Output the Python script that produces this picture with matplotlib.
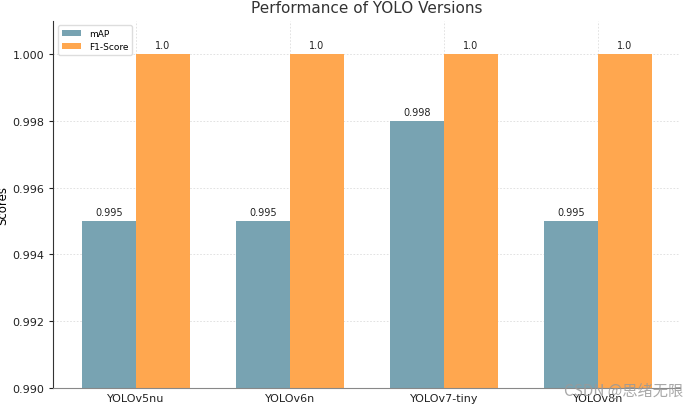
import matplotlib.pyplot as plt
import numpy as np

# model names and scores
models = ["YOLOv5nu", "YOLOv6n", "YOLOv7-tiny", "YOLOv8n"]
map_scores = [0.995, 0.995, 0.998, 0.995]
f1_scores = [1.0, 1.0, 1.0, 1.0]

plt.rcParams['font.family'] = ['DejaVu Sans', 'Noto Sans CJK SC']

x = np.arange(len(models))
width = 0.35

fig, ax = plt.subplots(figsize=(6.94, 4.10), dpi=100)
fig.subplots_adjust(left=0.077, right=0.98, top=0.947, bottom=0.052)

b1 = ax.bar(x - width / 2, map_scores, width, label="mAP", color="#78a3b2")
b2 = ax.bar(x + width / 2, f1_scores, width, label="F1-Score", color="#ffa74f")

for bars, vals in ((b1, map_scores), (b2, f1_scores)):
    for b, v in zip(bars, vals):
        ax.annotate(str(v), (b.get_x() + b.get_width() / 2, b.get_height()),
                    xytext=(0, 3), textcoords="offset points",
                    ha="center", va="bottom", fontsize=7, color="#222222")

ax.set_ylim(0.990, 1.001)
ax.set_yticks(np.arange(0.990, 1.0005, 0.002))
ax.yaxis.set_major_formatter(plt.FormatStrFormatter("%.3f"))
ax.set_xticks(x)
ax.set_xticklabels(models)
ax.tick_params(axis="both", labelsize=8, colors="#222222", length=3)
ax.tick_params(axis="x", length=0)
ax.set_ylabel("Scores", fontsize=8.5, labelpad=2)
ax.set_title("Performance of YOLO Versions", fontsize=11, color="#333333")

ax.grid(True, linestyle=(0, (2, 2)), color="#dddddd", linewidth=0.6)
ax.set_axisbelow(True)
for s in ("top", "right"):
    ax.spines[s].set_visible(False)
ax.spines["left"].set_color("#333333")
ax.spines["bottom"].set_color("#888888")

ax.legend(loc="upper left", fontsize=6.5, frameon=True, framealpha=1,
          edgecolor="#dddddd", handlelength=2.2)

fig.text(0.985, 0.025, "CSDN @思绪无限", ha="right", va="bottom",
         fontsize=11, color="#999999", alpha=0.85,
         family=["Noto Sans CJK SC", "DejaVu Sans"])

plt.savefig("out.png")
